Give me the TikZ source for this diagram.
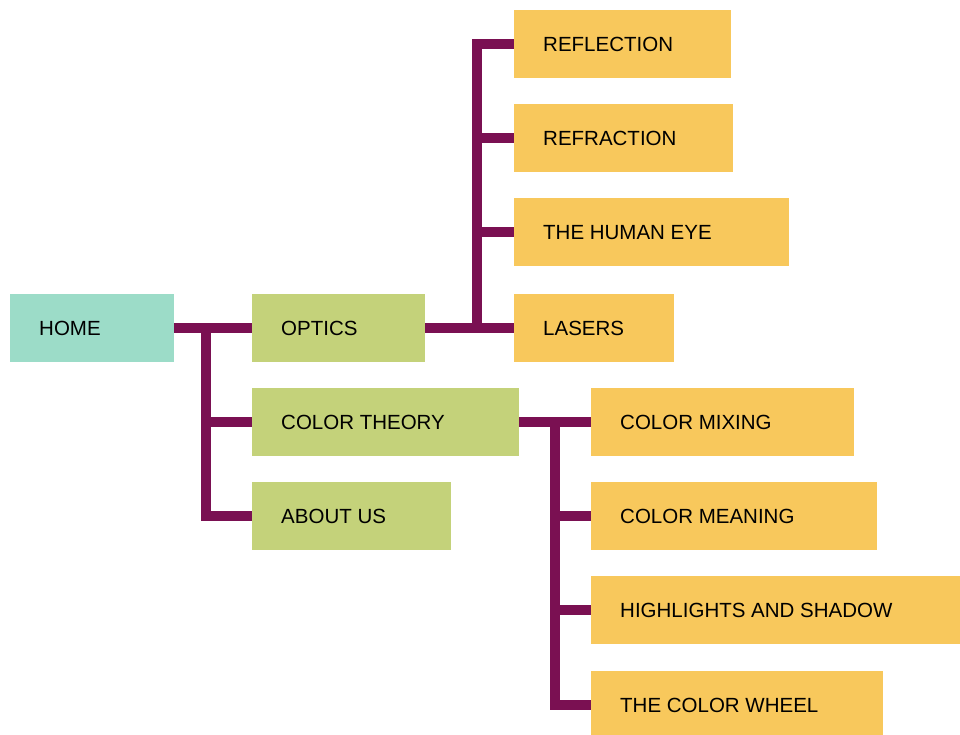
\documentclass[tikz,border=0pt]{standalone}
\usepackage{fontspec}
\setmainfont{Liberation Sans}
\definecolor{homec}{RGB}{156,220,200}
\definecolor{greenc}{RGB}{196,210,122}
\definecolor{yellowc}{RGB}{248,200,92}
\definecolor{linec}{RGB}{122,16,82}
\begin{document}
\begin{tikzpicture}[x=1pt,y=-1pt,
  box/.style={anchor=north west, inner xsep=0pt, inner ysep=0pt, minimum height=68pt, text height=14.7pt, text depth=0pt, font=\fontsize{20.5}{20.5}\selectfont\color{black}},
  homebox/.style={box, fill=homec},
  greenbox/.style={box, fill=greenc},
  yellowbox/.style={box, fill=yellowc},
  conn/.style={draw=linec, line width=10pt, line join=miter}]
\useasboundingbox (0,0) rectangle (960,734);
\newcommand\mybox[6]{\node[#1, minimum width=#5pt] (#2) at (#3,#4) {\hspace*{29pt}\makebox[\dimexpr#5pt-29pt\relax][l]{#6}};}
\mybox{homebox}{home}{10}{293.5}{164}{HOME}
\mybox{greenbox}{optics}{252}{293.5}{173}{OPTICS}
\mybox{greenbox}{colortheory}{252}{387.5}{267}{COLOR THEORY}
\mybox{greenbox}{aboutus}{252}{482}{199}{ABOUT US}
\mybox{yellowbox}{reflection}{514}{10}{217}{REFLECTION}
\mybox{yellowbox}{refraction}{514}{104}{219}{REFRACTION}
\mybox{yellowbox}{humaneye}{514}{198}{275}{THE HUMAN EYE}
\mybox{yellowbox}{lasers}{514}{293.5}{160}{LASERS}
\mybox{yellowbox}{colormixing}{591}{387.5}{263}{COLOR MIXING}
\mybox{yellowbox}{colormeaning}{591}{481.5}{286}{COLOR MEANING}
\mybox{yellowbox}{highlights}{591}{576}{369}{HIGHLIGHTS AND SHADOW}
\mybox{yellowbox}{colorwheel}{591}{671}{292}{THE COLOR WHEEL}
\coordinate (t1) at (206,0);
\coordinate (t2) at (477,0);
\coordinate (t3) at (555,0);
% home tree
\draw[conn] (home.east) -- (optics.west);
\draw[conn] (t1 |- home.east) |- (aboutus.west);
\draw[conn] (t1 |- colortheory.west) -- (colortheory.west);
% optics tree
\draw[conn] (optics.east) -- (lasers.west);
\draw[conn] (reflection.west) -| (t2 |- lasers.west);
\draw[conn] (t2 |- refraction.west) -- (refraction.west);
\draw[conn] (t2 |- humaneye.west) -- (humaneye.west);
% color theory tree
\draw[conn] (colortheory.east) -- (colormixing.west);
\draw[conn] (t3 |- colortheory.east) |- (colorwheel.west);
\draw[conn] (t3 |- colormeaning.west) -- (colormeaning.west);
\draw[conn] (t3 |- highlights.west) -- (highlights.west);
\end{tikzpicture}
\end{document}
